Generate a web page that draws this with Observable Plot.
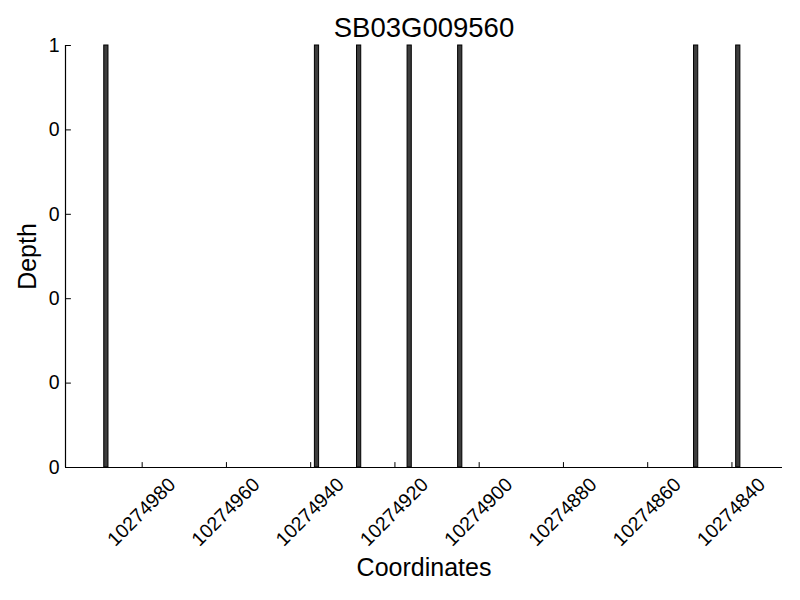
<!DOCTYPE html>
<html><head><meta charset="utf-8">
<script src="https://cdn.jsdelivr.net/npm/d3@7"></script>
<script src="https://cdn.jsdelivr.net/npm/@observablehq/plot@0.6"></script>
<style>
body{margin:0;background:#fff}
svg{font-family:"Liberation Sans",Arial,Helvetica,sans-serif}
</style>
</head><body><div id="chart"></div>
<script>
const title = "SB03G009560";
const xLabel = "Coordinates";
const yLabel = "Depth";
const coordinates = [10274988, 10274938, 10274928, 10274916, 10274904, 10274848, 10274838];
const depths = [1, 1, 1, 1, 1, 1, 1];
const xDomain = [10274998.2, 10274828];
const yDomain = [0, 1];
const xTicks = [10274980, 10274960, 10274940, 10274920, 10274900, 10274880, 10274860, 10274840];
const yTicks = [0, 0.2, 0.4, 0.6, 0.8, 1];

const bars = coordinates.map((c, i) => ({start: c, end: c + 1, depth: depths[i]}));
const tickLine = {draw(ctx, l) { ctx.moveTo(0, 0); ctx.lineTo(0, -l); }};

const chart = Plot.plot({
  width: 800, height: 600,
  marginLeft: 65, marginRight: 18, marginTop: 45, marginBottom: 133,
  style: {fontFamily: '"Liberation Sans", Arial, sans-serif', background: "white", color: "black"},
  x: {domain: xDomain, label: null},
  y: {domain: yDomain, label: null},
  marks: [
    Plot.rectY(bars, {x1: "start", x2: "end", y: "depth", fill: "#3d3d3d", stroke: "#000", strokeWidth: 1}),
    Plot.ruleY([yDomain[0]], {stroke: "black", strokeWidth: 1.2}),
    Plot.ruleX([xDomain[0]], {stroke: "black", strokeWidth: 1.2}),
    Plot.vector(xTicks, {x: d => d, y: yDomain[0], length: 5, rotate: 0, anchor: "start", shape: tickLine, stroke: "black", strokeWidth: 1}),
    Plot.vector(yTicks, {x: xDomain[0], y: d => d, length: 5, rotate: 90, anchor: "start", shape: tickLine, stroke: "black", strokeWidth: 1}),
    Plot.axisX({ticks: xTicks, tickSize: 0, tickRotate: -45, tickPadding: 14, dx: 30, fontSize: 19.5, tickFormat: d => String(d), label: null}),
    Plot.axisY({ticks: yTicks, tickSize: 0, tickPadding: 6, fontSize: 19.5, tickFormat: d => String(Math.trunc(d)), label: null}),
    Plot.text([title], {text: d => d, frameAnchor: "top", lineAnchor: "middle", dy: -17, fontSize: 27.5, fill: "black"}),
    Plot.text([xLabel], {text: d => d, frameAnchor: "bottom", lineAnchor: "middle", dy: 100, fontSize: 25, fill: "black"}),
    Plot.text([yLabel], {text: d => d, frameAnchor: "left", textAnchor: "middle", lineAnchor: "middle", rotate: -90, dx: -38, fontSize: 25, fill: "black"})
  ]
});
document.getElementById("chart").appendChild(chart);
</script>
</body></html>
